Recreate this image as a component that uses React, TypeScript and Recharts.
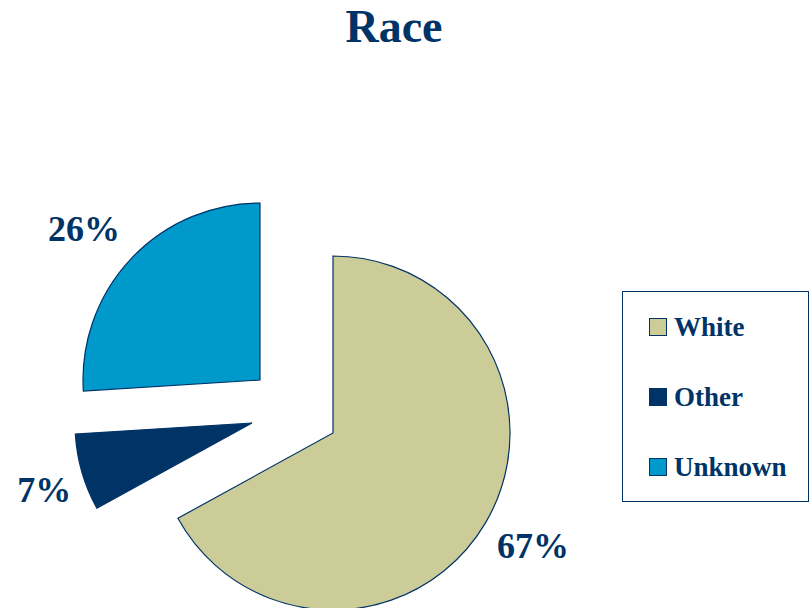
import React from "react";
import { PieChart, Pie, Cell } from "recharts";

const categories = ["White", "Other", "Unknown"];
const shares = [67, 7, 26];
const colors = ["#CCCC99", "#003366", "#0099CC"];

// where each exploded slice's vertex sits, how far out its label goes, and a small label nudge
const centers = [
  { cx: 333, cy: 433, k: 1.3, dx: 2, dy: -4 },
  { cx: 252, cy: 423, k: 1.24, dx: 3, dy: 6 },
  { cx: 260, cy: 380, k: 1.31, dx: -7, dy: 8 },
];

const data = categories.map((name, i) => ({ name, value: shares[i] }));
const RAD = Math.PI / 180;
const navy = "#003366";
const font = "'Liberation Serif', 'Times New Roman', serif";

if (typeof document !== "undefined") document.body.style.margin = "0";

export default function App() {
  const makeLabel = (visible: number) => (props: any) => {
    if (props.index !== visible) return null;
    const c = centers[visible];
    const r = props.outerRadius * c.k;
    const x = props.cx + r * Math.cos(-props.midAngle * RAD) + c.dx;
    const y = props.cy + r * Math.sin(-props.midAngle * RAD) + c.dy;
    return (
      <text
        x={x}
        y={y}
        textAnchor="middle"
        dominantBaseline="central"
        fill={navy}
        style={{ fontFamily: font, fontWeight: 700, fontSize: 36 }}
      >
        {`${Math.round(props.percent * 100)}%`}
      </text>
    );
  };

  return (
    <div style={{ position: "relative", width: 810, height: 608, background: "#fff", overflow: "hidden" }}>
      <div
        style={{
          position: "absolute",
          top: 0,
          left: 0,
          width: 788,
          textAlign: "center",
          fontFamily: font,
          fontWeight: 700,
          fontSize: 46,
          lineHeight: "54px",
          color: navy,
        }}
      >
        Race
      </div>
      <PieChart width={810} height={608} margin={{ top: 0, right: 0, bottom: 0, left: 0 }}>
        {centers.map((c, i) => (
          <Pie
            key={i}
            data={data}
            dataKey="value"
            nameKey="name"
            cx={c.cx}
            cy={c.cy}
            outerRadius={177}
            startAngle={90}
            endAngle={-270}
            isAnimationActive={false}
            label={makeLabel(i)}
            labelLine={false}
          >
            {data.map((_, j) => (
              <Cell
                key={j}
                fill={j === i ? colors[j] : "none"}
                stroke={j === i ? navy : "none"}
                strokeWidth={1.2}
              />
            ))}
          </Pie>
        ))}
      </PieChart>
      <div
        style={{
          position: "absolute",
          left: 622,
          top: 291,
          width: 187,
          height: 211,
          border: `1px solid ${navy}`,
          boxSizing: "border-box",
          fontFamily: font,
          fontWeight: 700,
          fontSize: 27,
          color: navy,
        }}
      >
        {categories.map((name, i) => (
          <div
            key={name}
            style={{ position: "absolute", left: 26, top: 18 + i * 70, display: "flex", alignItems: "center", lineHeight: "34px" }}
          >
            <span
              style={{
                display: "inline-block",
                width: 16,
                height: 16,
                background: colors[i],
                border: `1px solid ${navy}`,
                marginRight: 7,
              }}
            />
            {name}
          </div>
        ))}
      </div>
    </div>
  );
}
